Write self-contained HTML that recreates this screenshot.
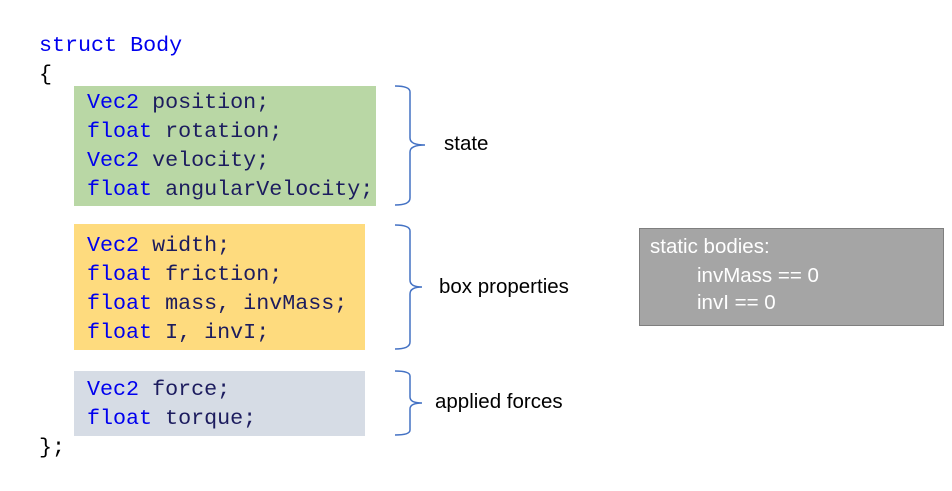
<!DOCTYPE html>
<html><head><style>
body{margin:0;width:952px;height:491px;background:#fff;position:relative;overflow:hidden}
.c{position:absolute;font-family:"Liberation Mono",monospace;font-size:21.7px;white-space:pre;line-height:29px;color:#1c1c5e}
.k{color:#0000ee}
.b{position:absolute}
.l{position:absolute;font-family:"Liberation Sans",sans-serif;font-size:20.5px;color:#000;white-space:pre}
.g{position:absolute;font-family:"Liberation Sans",sans-serif;font-size:20.5px;color:#fff;white-space:pre;line-height:28px}
</style></head><body>
<div class="b" style="left:74px;top:86px;width:302px;height:120px;background:#b9d7a5"></div>
<div class="b" style="left:74px;top:224px;width:291px;height:126px;background:#fedb7e"></div>
<div class="b" style="left:74px;top:371px;width:291px;height:65px;background:#d6dce5"></div>
<div class="b" style="left:639px;top:228px;width:303px;height:96px;background:#a5a5a5;border:1px solid #7f7f7f"></div>

<div class="c" style="left:39px;top:31px"><span class="k">struct Body</span></div>
<div class="c" style="left:39px;top:60px;color:#000">{</div>
<div class="c" style="left:87px;top:88px"><span class="k">Vec2</span> position;
<span class="k">float</span> rotation;
<span class="k">Vec2</span> velocity;
<span class="k">float</span> angularVelocity;</div>
<div class="c" style="left:87px;top:231px"><span class="k">Vec2</span> width;
<span class="k">float</span> friction;
<span class="k">float</span> mass, invMass;
<span class="k">float</span> I, invI;</div>
<div class="c" style="left:87px;top:375px"><span class="k">Vec2</span> force;
<span class="k">float</span> torque;</div>
<div class="c" style="left:39px;top:433px;color:#000">};</div>

<svg width="952" height="491" style="position:absolute;left:0;top:0" fill="none" stroke="#4472c4" stroke-width="1.5">
<path d="M395 86 Q410 86 410 92 L410 138 Q410 145 425 145 Q410 145 410 152 L410 198 Q410 205 395 205"/>
<path d="M395 225 Q410 225 410 231 L410 280 Q410 287 422 287 Q410 287 410 294 L410 342 Q410 349 395 349"/>
<path d="M395 371 Q410 371 410 376 L410 397 Q410 403 422 403 Q410 403 410 409 L410 430 Q410 435 395 435"/>
</svg>

<div class="l" style="left:444px;top:132px">state</div>
<div class="l" style="left:439px;top:275px">box properties</div>
<div class="l" style="left:435px;top:390px">applied forces</div>

<div class="g" style="left:650px;top:233px">static bodies:</div>
<div class="g" style="left:697px;top:262px">invMass == 0</div>
<div class="g" style="left:697px;top:289px">invI == 0</div>
</body></html>
